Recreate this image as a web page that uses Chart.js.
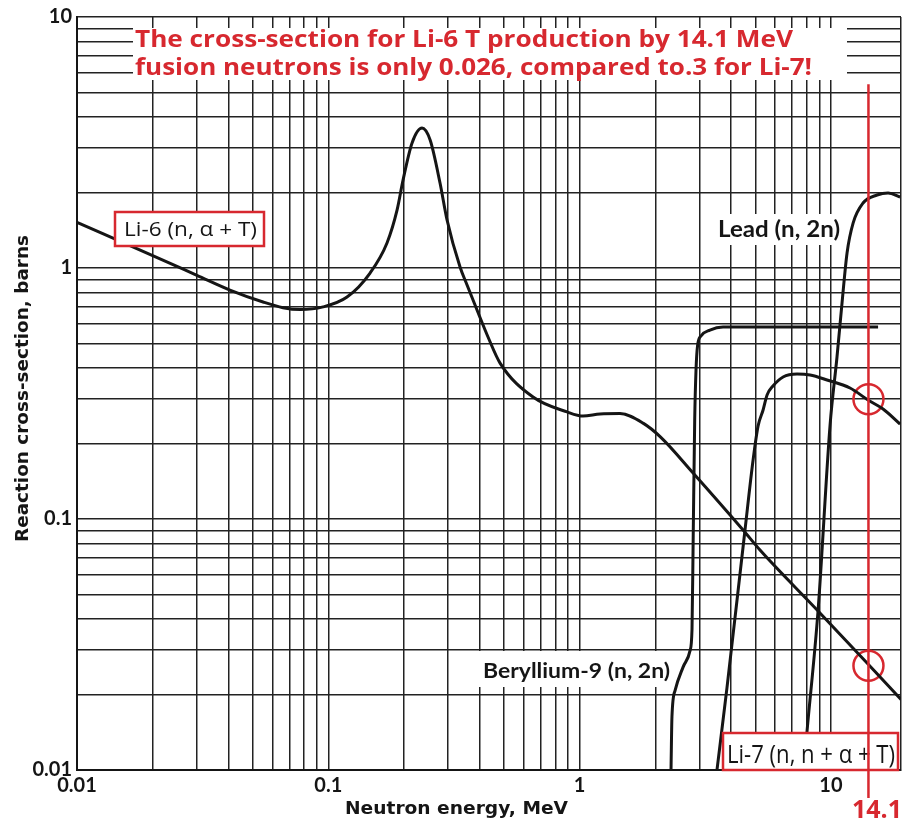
<!DOCTYPE html>
<html>
<head>
<meta charset="utf-8">
<script src="https://cdn.jsdelivr.net/npm/chart.js@4.4.1/dist/chart.umd.min.js"></script>
<style>
html, body { margin: 0; padding: 0; background: #fff; overflow: hidden; }
</style>
</head>
<body>
<canvas id="xs-chart" width="902" height="821"></canvas>
<script>
// neutron energy (MeV) vs reaction cross-section (barns)
const li6Energy = [0.01, 0.02, 0.03, 0.0406, 0.055, 0.066, 0.0772, 0.0953, 0.1187, 0.1466, 0.1712, 0.1877, 0.1983, 0.2154, 0.236, 0.254, 0.2783, 0.2968, 0.3343, 0.3565, 0.3906, 0.432, 0.4824, 0.6526, 0.891, 1.032, 1.206, 1.448, 1.788, 2.1, 2.828, 4.47, 5.22, 8.81, 13.92, 19];
const li6Sigma = [1.52, 1.12, 0.935, 0.817, 0.732, 0.695, 0.683, 0.70, 0.766, 0.955, 1.258, 1.70, 2.24, 3.15, 3.61, 3.24, 2.18, 1.553, 1.009, 0.856, 0.68, 0.531, 0.418, 0.306, 0.267, 0.257, 0.262, 0.263, 0.241, 0.212, 0.1525, 0.0904, 0.0752, 0.0434, 0.0267, 0.0191];

const beEnergy = [2.31, 2.33, 2.40, 2.58, 2.75, 2.80, 2.83, 2.87, 2.905, 2.946, 3.04, 3.30, 3.72, 15.4];
const beSigma = [0.01, 0.0163, 0.0208, 0.0257, 0.0299, 0.0363, 0.0827, 0.248, 0.393, 0.49, 0.536, 0.566, 0.582, 0.582];

const li7Energy = [3.52, 3.86, 4.55, 4.90, 5.13, 5.37, 5.57, 5.88, 6.45, 7.33, 8.26, 9.65, 11.91, 14.05, 16.12, 18.84];
const li7Sigma = [0.01, 0.0214, 0.0904, 0.1718, 0.235, 0.2718, 0.312, 0.3388, 0.3679, 0.378, 0.3748, 0.358, 0.3325, 0.2978, 0.2743, 0.239];

const leadEnergy = [7.78, 8.04, 8.89, 9.92, 10.57, 11.07, 11.59, 12.25, 13.42, 15.26, 16.88, 18.84];
const leadSigma = [0.01, 0.01443, 0.0434, 0.2368, 0.442, 0.726, 1.148, 1.51, 1.815, 1.954, 1.99, 1.918];

// 14.1 MeV fusion neutrons: Li-7 and Li-6 values circled
const markerEnergy = 14.1;
const markerSigma = [0.3, 0.026];
const markerLineTop = 5.4;

const energyTickValues = [0.01, 0.1, 1, 10];
const xTickLabels = ['0.01', '0.1', '1', '10'];
const sigmaTickValues = [0.01, 0.1, 1, 10];
const yTickLabels = ['0.01', '0.1', '1', '10'];

const RED = '#d7282f';
const INK = '#151515';

function toPoints(xs, ys) {
    return xs.map((x, i) => ({ x: x, y: ys[i] }));
}

// every 1..9 x 10^n gets a grid line, like log paper
function logTicks(min, max) {
    const out = [];
    for (let e = Math.floor(Math.log10(min)); e <= Math.ceil(Math.log10(max)); e++) {
        for (let m = 1; m <= 9; m++) {
            const v = parseFloat((m * Math.pow(10, e)).toPrecision(6));
            if (v >= min && v <= max) out.push({ value: v });
        }
    }
    if (out[out.length - 1].value < max) out.push({ value: max });
    return out;
}

function labelFor(v, values, labels) {
    const idx = values.findIndex(t => Math.abs(t - v) / t < 1e-6);
    return idx >= 0 ? labels[idx] : '';
}

// draw text squeezed/stretched to a given width
function fitText(ctx, text, left, baseline, width, font, color, angle) {
    ctx.save();
    ctx.font = font;
    ctx.fillStyle = color;
    ctx.textAlign = 'left';
    ctx.textBaseline = 'alphabetic';
    const w = ctx.measureText(text).width;
    ctx.translate(left, baseline);
    if (angle) ctx.rotate(angle);
    ctx.scale(width / w, 1);
    ctx.fillText(text, 0, 0);
    ctx.restore();
}

function whiteBox(ctx, x, y, w, h, border) {
    ctx.save();
    ctx.fillStyle = '#fff';
    ctx.fillRect(x, y, w, h);
    if (border) {
        ctx.strokeStyle = border;
        ctx.lineWidth = 2.5;
        ctx.strokeRect(x, y, w, h);
    }
    ctx.restore();
}

const overlay = {
    id: 'overlay',
    afterDatasetsDraw(chart) {
        const ctx = chart.ctx;
        const xs = chart.scales.x;
        const ys = chart.scales.y;
        const area = chart.chartArea;

        // red headline
        whiteBox(ctx, 133, 28, 714, 52);
        fitText(ctx, 'The cross-section for Li-6 T production by 14.1 MeV', 135, 47, 658, 'bold 24px "Open Sans"', RED);
        fitText(ctx, 'fusion neutrons is only 0.026, compared to.3 for Li-7!', 135, 75, 677, 'bold 24px "Open Sans"', RED);

        // curve labels
        whiteBox(ctx, 713, 214, 131, 31);
        fitText(ctx, 'Lead (n, 2n)', 718, 237, 122, 'bold 22px Lato', INK);
        whiteBox(ctx, 478, 651, 195, 36);
        fitText(ctx, 'Beryllium-9 (n, 2n)', 483, 678, 187, 'bold 21px Lato', INK);

        whiteBox(ctx, 115, 212, 149, 34, RED);
        fitText(ctx, 'Li-6 (n, \u03b1 + T)', 124, 236, 133, '20px "Open Sans"', INK);
        whiteBox(ctx, 723, 733, 175, 37, RED);
        fitText(ctx, 'Li-7 (n, n + \u03b1 + T)', 727, 763, 168, '25px "Open Sans"', INK);

        // 14.1 MeV marker line, runs below the axis to its label
        const px = xs.getPixelForValue(markerEnergy);
        ctx.save();
        ctx.strokeStyle = RED;
        ctx.lineWidth = 2.5;
        ctx.beginPath();
        ctx.moveTo(px, ys.getPixelForValue(markerLineTop));
        ctx.lineTo(px, area.bottom + 28);
        ctx.stroke();
        ctx.restore();
        fitText(ctx, '14.1', 852, 818, 50, 'bold 25px "Open Sans"', RED);
    },
    afterDraw(chart) {
        const ctx = chart.ctx;
        fitText(ctx, 'Neutron energy, MeV', 345, 814, 223, 'bold 18px "DejaVu Sans"', INK);
        fitText(ctx, 'Reaction cross-section, barns', 28, 542, 307, 'bold 18px "DejaVu Sans"', INK, -Math.PI / 2);
    }
};

function curve(points) {
    return {
        data: points,
        showLine: true,
        borderColor: INK,
        borderWidth: 3,
        pointRadius: 0,
        fill: false,
        cubicInterpolationMode: 'monotone'
    };
}

const tickFont = { family: 'Lato', size: 20, weight: 'bold' };

const chart = new Chart(document.getElementById('xs-chart').getContext('2d'), {
    type: 'scatter',
    data: {
        datasets: [
            curve(toPoints(li6Energy, li6Sigma)),
            curve(toPoints(beEnergy, beSigma)),
            curve(toPoints(li7Energy, li7Sigma)),
            curve(toPoints(leadEnergy, leadSigma)),
            {
                data: markerSigma.map(s => ({ x: markerEnergy, y: s })),
                showLine: false,
                pointRadius: 15,
                pointBorderWidth: 2.5,
                pointBorderColor: RED,
                pointBackgroundColor: 'rgba(0,0,0,0)'
            }
        ]
    },
    options: {
        responsive: false,
        animation: false,
        layout: { autoPadding: false, padding: { top: 17, right: 1, left: 0, bottom: 0 } },
        plugins: { legend: { display: false }, tooltip: { enabled: false } },
        scales: {
            x: {
                type: 'logarithmic',
                min: 0.01,
                max: 19,
                afterBuildTicks: s => { s.ticks = logTicks(0.01, 19); },
                afterFit: s => { s.height = 51; s.paddingLeft = 0; s.paddingRight = 0; },
                grid: { color: '#222', lineWidth: 1.5, drawTicks: false },
                border: { color: INK, width: 2 },
                ticks: {
                    autoSkip: false,
                    maxRotation: 0,
                    padding: 4,
                    color: INK,
                    font: tickFont,
                    callback: v => labelFor(v, energyTickValues, xTickLabels)
                }
            },
            y: {
                type: 'logarithmic',
                min: 0.01,
                max: 10,
                afterBuildTicks: s => { s.ticks = logTicks(0.01, 10); },
                afterFit: s => { s.width = 77; s.paddingTop = 0; s.paddingBottom = 0; },
                grid: { color: '#222', lineWidth: 1.5, drawTicks: false },
                border: { color: INK, width: 2 },
                ticks: {
                    autoSkip: false,
                    padding: 5,
                    color: INK,
                    font: tickFont,
                    callback: v => labelFor(v, sigmaTickValues, yTickLabels)
                }
            }
        }
    },
    plugins: [overlay]
});
</script>
</body>
</html>
